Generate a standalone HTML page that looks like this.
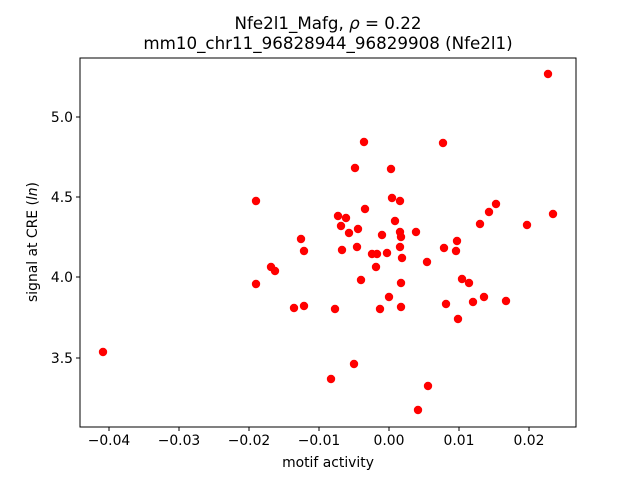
<!DOCTYPE html>
<html><head><style>body{margin:0;background:#fff}</style></head><body>
<svg width="640" height="480" xmlns="http://www.w3.org/2000/svg" font-family="DejaVu Sans, Liberation Sans, sans-serif">
<rect width="640" height="480" fill="#fff"/>
<text x="328" y="29" font-size="16.7" text-anchor="middle">Nfe2l1_Mafg, <tspan font-style="italic">ρ</tspan> = 0.22</text>
<text x="328" y="49" font-size="16.7" text-anchor="middle">mm10_chr11_96828944_96829908 (Nfe2l1)</text>
<g fill="red">
<circle cx="103" cy="352" r="4.2"/><circle cx="256" cy="201" r="4.2"/><circle cx="256" cy="284" r="4.2"/><circle cx="271" cy="267" r="4.2"/><circle cx="275" cy="271" r="4.2"/><circle cx="301" cy="239" r="4.2"/><circle cx="304" cy="251" r="4.2"/><circle cx="304" cy="306" r="4.2"/><circle cx="294" cy="308" r="4.2"/><circle cx="335" cy="309" r="4.2"/><circle cx="331" cy="379" r="4.2"/><circle cx="338" cy="216" r="4.2"/><circle cx="341" cy="226" r="4.2"/><circle cx="342" cy="250" r="4.2"/><circle cx="346" cy="218" r="4.2"/><circle cx="349" cy="233" r="4.2"/><circle cx="355" cy="168" r="4.2"/><circle cx="358" cy="229" r="4.2"/><circle cx="357" cy="247" r="4.2"/><circle cx="354" cy="364" r="4.2"/><circle cx="364" cy="142" r="4.2"/><circle cx="365" cy="209" r="4.2"/><circle cx="361" cy="280" r="4.2"/><circle cx="372" cy="254" r="4.2"/><circle cx="376" cy="267" r="4.2"/><circle cx="377" cy="254" r="4.2"/><circle cx="380" cy="309" r="4.2"/><circle cx="382" cy="235" r="4.2"/><circle cx="387" cy="253" r="4.2"/><circle cx="389" cy="297" r="4.2"/><circle cx="391" cy="169" r="4.2"/><circle cx="392" cy="198" r="4.2"/><circle cx="395" cy="221" r="4.2"/><circle cx="400" cy="201" r="4.2"/><circle cx="400" cy="232" r="4.2"/><circle cx="400" cy="247" r="4.2"/><circle cx="401" cy="237" r="4.2"/><circle cx="402" cy="258" r="4.2"/><circle cx="401" cy="283" r="4.2"/><circle cx="401" cy="307" r="4.2"/><circle cx="416" cy="232" r="4.2"/><circle cx="418" cy="410" r="4.2"/><circle cx="427" cy="262" r="4.2"/><circle cx="428" cy="386" r="4.2"/><circle cx="443" cy="143" r="4.2"/><circle cx="444" cy="248" r="4.2"/><circle cx="446" cy="304" r="4.2"/><circle cx="456" cy="251" r="4.2"/><circle cx="457" cy="241" r="4.2"/><circle cx="458" cy="319" r="4.2"/><circle cx="462" cy="279" r="4.2"/><circle cx="469" cy="283" r="4.2"/><circle cx="473" cy="302" r="4.2"/><circle cx="480" cy="224" r="4.2"/><circle cx="484" cy="297" r="4.2"/><circle cx="489" cy="212" r="4.2"/><circle cx="496" cy="204" r="4.2"/><circle cx="506" cy="301" r="4.2"/><circle cx="527" cy="225" r="4.2"/><circle cx="548" cy="74" r="4.2"/><circle cx="553" cy="214" r="4.2"/>
</g>
<rect x="80" y="58" width="496" height="369" fill="none" stroke="#000" stroke-width="1"/>
<g stroke="#000">
<line x1="109" y1="427" x2="109" y2="431"/><line x1="179" y1="427" x2="179" y2="431"/><line x1="249" y1="427" x2="249" y2="431"/><line x1="319" y1="427" x2="319" y2="431"/><line x1="389" y1="427" x2="389" y2="431"/><line x1="459" y1="427" x2="459" y2="431"/><line x1="529" y1="427" x2="529" y2="431"/>
<line x1="76" y1="117" x2="80" y2="117"/><line x1="76" y1="197" x2="80" y2="197"/><line x1="76" y1="277" x2="80" y2="277"/><line x1="76" y1="358" x2="80" y2="358"/>
</g>
<g font-size="13.9" text-anchor="middle">
<text x="109" y="445">−0.04</text><text x="179" y="445">−0.03</text><text x="249" y="445">−0.02</text><text x="319" y="445">−0.01</text><text x="389" y="445">0.00</text><text x="459" y="445">0.01</text><text x="529" y="445">0.02</text>
</g>
<g font-size="13.9" text-anchor="end">
<text x="73" y="122">5.0</text><text x="73" y="202">4.5</text><text x="73" y="282">4.0</text><text x="73" y="363">3.5</text>
</g>
<text x="328" y="467" font-size="13.9" text-anchor="middle">motif activity</text>
<text transform="translate(37,242) rotate(-90)" font-size="13.9" text-anchor="middle">signal at CRE (<tspan font-style="italic">ln</tspan>)</text>
</svg>
</body></html>
